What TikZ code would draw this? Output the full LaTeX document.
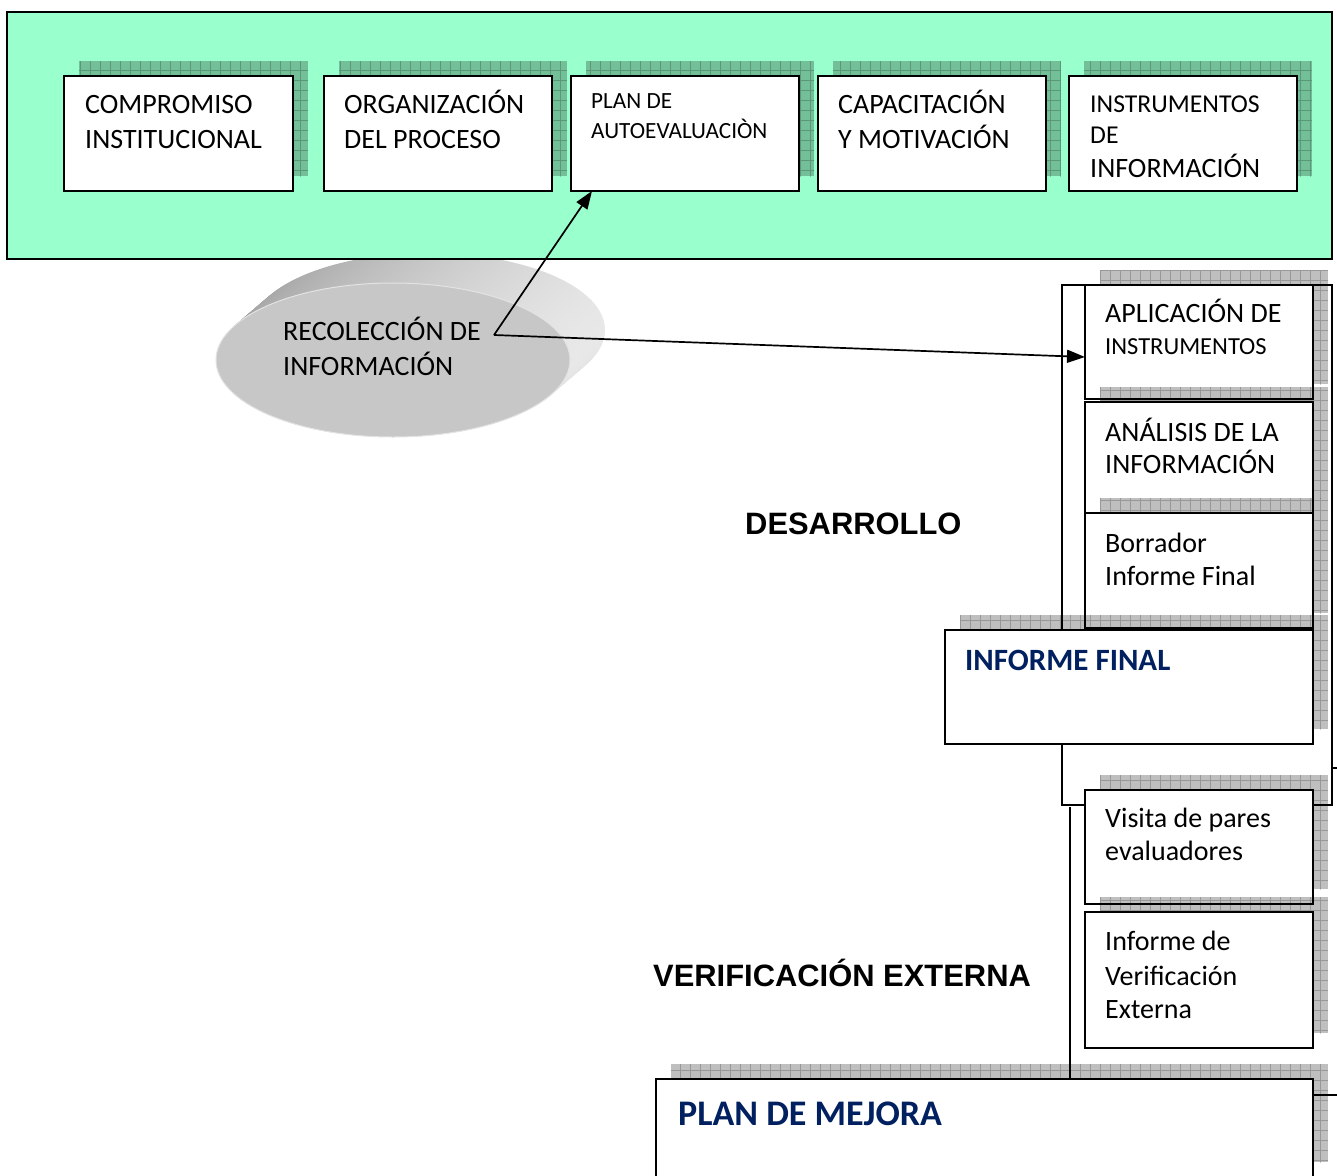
\documentclass[tikz,border=0pt]{standalone}
\usepackage{fontspec}
\newfontfamily\calfont{Carlito}
\newfontfamily\arifont{Liberation Sans}
\usetikzlibrary{arrows.meta}
\definecolor{mint}{HTML}{99FFCC}
\definecolor{navy}{HTML}{002060}
\tikzset{
  box/.style={draw=black, line width=1.6pt, fill=white, inner sep=0pt, outer sep=0pt},
  frame/.style={draw=black, line width=1.4pt},
  conn/.style={line width=1.7pt, -{Triangle[length=18pt,width=13pt]}},
  t28/.style={font=\calfont\fontsize{28}{34}\selectfont, inner sep=0pt, anchor=base west},
  t26/.style={font=\calfont\fontsize{25.7}{31}\selectfont, inner sep=0pt, anchor=base west},
  t24/.style={font=\calfont\fontsize{24.5}{30}\selectfont, inner sep=0pt, anchor=base west},
  t23/.style={font=\calfont\fontsize{23.2}{28}\selectfont, inner sep=0pt, anchor=base west},
  tnavy/.style={font=\calfont\bfseries\fontsize{#1}{#1}\selectfont, text=navy, inner sep=0pt, anchor=base west},
  tari/.style={font=\arifont\bfseries\fontsize{30.9}{36}\selectfont, inner sep=0pt, anchor=base west},
}
\newcommand\shadowat[4]{%
  \fill[black, opacity=.25] ({#1+15},{#2-15}) rectangle ({#3+15},{#4-15});
  \begin{scope}
    \clip ({#1+15},{#2-15}) rectangle ({#3+15},{#4-15});
    \draw[black, opacity=.2, line width=.8pt, step=10pt] ({#1},{#2-30}) grid ({#3+30},{#4});
  \end{scope}}
\newcommand\boxat[5]{%
  \shadowat{#2}{#3}{#4}{#5}
  \node[box, minimum width={#4-#2}, minimum height={#5-#3}] (#1) at ({(#2+#4)/2},{(#3+#5)/2}) {};}
\begin{document}
\begin{tikzpicture}[x=1pt, y=-1pt]
\useasboundingbox (0,0) rectangle (1337,1175);
\fill[white] (0,0) rectangle (1337,1175);

% 3D disc
\foreach \i in {0,...,24} {
  \shade[left color=gray!72, right color=gray!18]
    ({428-35*\i/24},{330+30*\i/24}) ellipse [x radius=177pt, y radius=77pt];
}
\fill[gray!44] (393,360) ellipse [x radius=177pt, y radius=77pt];
\draw[gray!22, line width=1pt] (393,360) ellipse [x radius=177pt, y radius=77pt];

% top panel
\node[fill=mint, draw=black, line width=1.5pt, inner sep=0pt, outer sep=0pt,
      minimum width=1325, minimum height=247] (panel) at (669.5,135.5) {};

\boxat{b1}{64}{76}{293}{191}
\boxat{b2}{324}{76}{552}{191}
\boxat{b3}{571}{76}{799}{191}
\boxat{b4}{818}{76}{1046}{191}
\boxat{b5}{1069}{76}{1297}{191}

% frames of the right column
\draw[frame] (1062,285) rectangle (1332,805);
\draw[frame] (1332,768) -- (1337,768);
\draw[frame] (1337,1095) -| (1070,807);

\boxat{a1}{1085}{285}{1313}{399}
\boxat{a2}{1085}{402}{1313}{513}
\boxat{a3}{1085}{513}{1313}{628}
\boxat{inf}{945}{630}{1313}{744}
\boxat{v1}{1085}{790}{1313}{904}
\boxat{v2}{1085}{912}{1313}{1048}
\boxat{pm}{656}{1079}{1313}{1177}

% texts top
\node[t28] (c1a) at (85,113) {COMPROMISO};
\node[t28] (c1b) at (85,148) {INSTITUCIONAL};
\node[t28] (c2a) at (344,113) {ORGANIZACIÓN};
\node[t28] (c2b) at (344,148) {DEL PROCESO};
\node[t23] (c3a) at (591,108) {PLAN DE};
\node[t23] (c3b) at (591,138) {AUTOEVALUACIÒN};
\node[t28] (c4a) at (838,113) {CAPACITACIÓN};
\node[t28] (c4b) at (838,148) {Y MOTIVACIÓN};
\node[t26] (c5a) at (1090,112) {INSTRUMENTOS};
\node[t26] (c5b) at (1090,143) {DE};
\node[t28] (c5c) at (1090,177) {INFORMACIÓN};

% disc text
\node[t28] (r1) at (283,340) {RECOLECCIÓN DE};
\node[t28] (r2) at (283,375) {INFORMACIÓN};
\coordinate (src) at (494,335);

% right column texts
\node[t28] (a1a) at (1105,322) {APLICACIÓN DE};
\node[t24] (a1b) at (1105,354) {INSTRUMENTOS};
\node[t28] (a2a) at (1105,441) {ANÁLISIS DE LA};
\node[t28] (a2b) at (1105,473) {INFORMACIÓN};
\node[t28] (a3a) at (1105,552) {Borrador};
\node[t28] (a3b) at (1105,585) {Informe Final};
\node[tnavy=31] (inft) at (965,670) {INFORME FINAL};
\node[t28] (v1a) at (1105,827) {Visita de pares};
\node[t28] (v1b) at (1105,860) {evaluadores};
\node[t28] (v2a) at (1105,950) {Informe de};
\node[t28] (v2b) at (1105,985) {Verificación};
\node[t28] (v2c) at (1105,1018) {Externa};
\node[tnavy=36] (pmt) at (678,1125) {PLAN DE MEJORA};

\node[tari] (des) at (745,534) {DESARROLLO};
\node[tari] (ver) at (653,986) {VERIFICACIÓN EXTERNA};

% connectors
\draw[conn] (src) -- ([xshift=21pt]b3.south west);
\draw[conn] (src) -- ([yshift=-15pt]a1.west);
\end{tikzpicture}
\end{document}
